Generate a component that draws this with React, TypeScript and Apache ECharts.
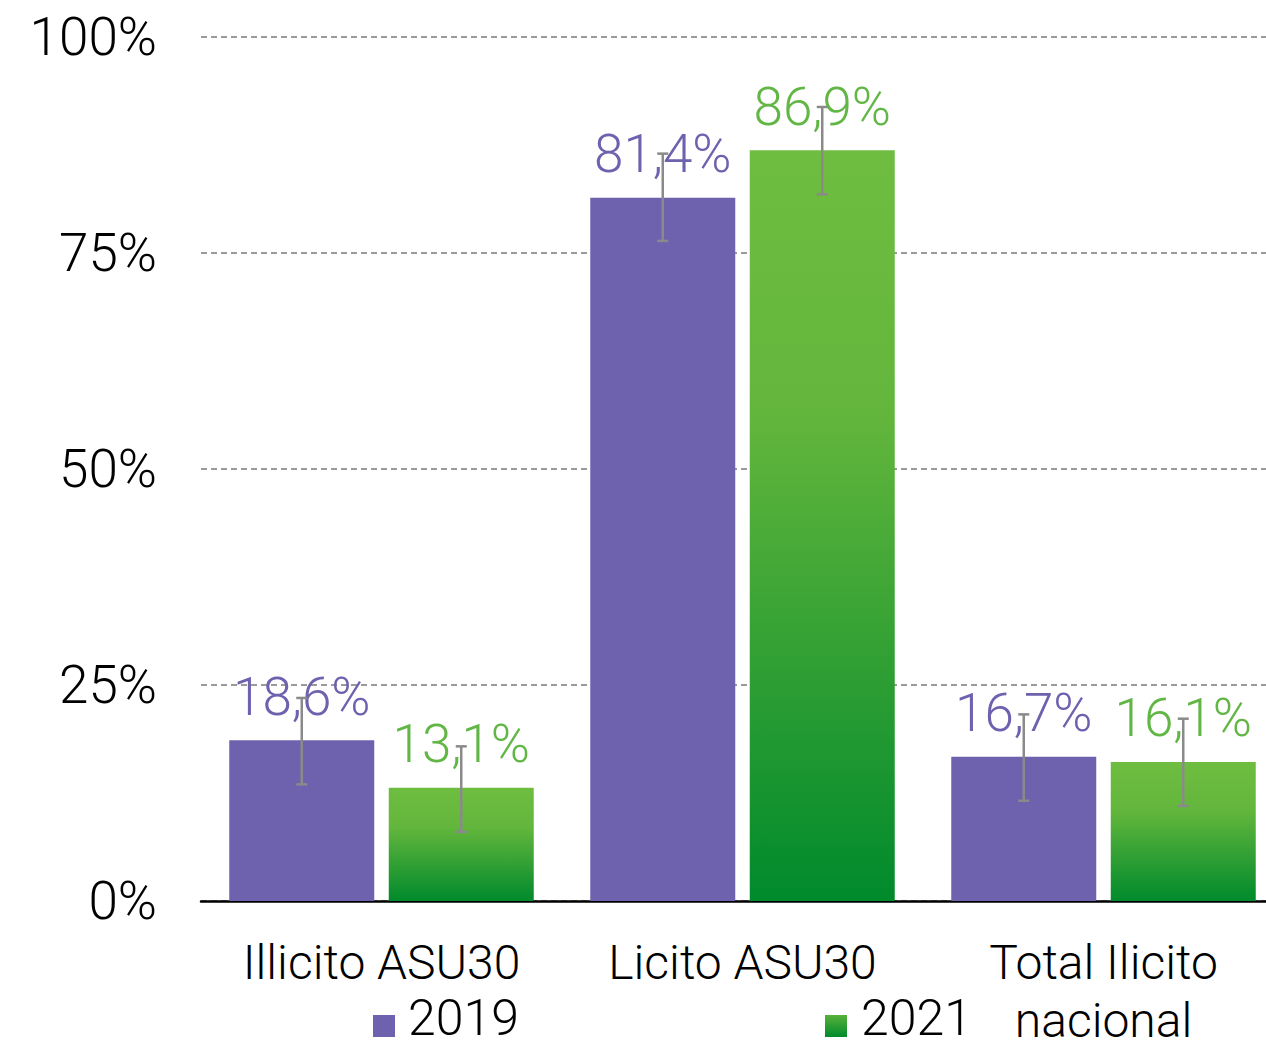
import React, { useEffect, useRef } from "react";
import * as echarts from "echarts";

const categories = ["Illicito ASU30", "Licito ASU30", "Total Ilicito\nnacional"];
const seriesNames = ["2019", "2021"];
const values2019 = [18.6, 81.4, 16.7];
const values2021 = [13.1, 86.9, 16.1];
const errLow2019 = [13.5, 76.4, 11.6];
const errHigh2019 = [23.5, 86.5, 21.6];
const errLow2021 = [8.0, 81.8, 11.0];
const errHigh2021 = [17.9, 91.9, 21.1];
const yTicks = [0, 25, 50, 75, 100];

const FONT = "Roboto";
const PURPLE = "#6E62AF";
const GREEN_LABEL = "#62B646";
const LEGEND_ICON = "path://M0,0 L22,0 L22,0 Z M0,16 L22,16 L22,38 L0,38 Z";

const greenGradient = () =>
  new echarts.graphic.LinearGradient(0, 0, 0, 1, [
    { offset: 0, color: "#6EBD40" },
    { offset: 0.35, color: "#63B63C" },
    { offset: 1, color: "#008A2C" },
  ]);

const fmt = (v: number) => v.toFixed(1).replace(".", ",") + "%";

export default function App() {
  const ref = useRef<HTMLDivElement>(null);
  useEffect(() => {
    if (!ref.current) return;
    const chart = echarts.init(ref.current, undefined, { renderer: "svg" });
    const BAR_W = 145;
    const OFFSET = (BAR_W + 14.5) / 2;
    const errRender = (offset: number) => (params: any, api: any) => {
      const cat = api.value(0);
      const pLo = api.coord([cat, api.value(1)]);
      const pHi = api.coord([cat, api.value(2)]);
      const x = pLo[0] + offset;
      const cap = 5.5;
      const style = { stroke: "#8A8A8A", lineWidth: 2.5 };
      return {
        type: "group",
        children: [
          { type: "line", shape: { x1: x, y1: pLo[1], x2: x, y2: pHi[1] }, style },
          { type: "line", shape: { x1: x - cap, y1: pLo[1], x2: x + cap, y2: pLo[1] }, style },
          { type: "line", shape: { x1: x - cap, y1: pHi[1], x2: x + cap, y2: pHi[1] }, style },
        ],
      };
    };
    const legendText = {
      fontSize: 50,
      fontFamily: FONT,
      fontWeight: 300,
      color: "#000",
      lineHeight: 40,
      padding: [0, 0, 0, 8],
    };
    chart.setOption({
      animation: false,
      backgroundColor: "#ffffff",
      textStyle: { fontFamily: FONT, fontWeight: 300 },
      grid: { left: 201, top: 37, width: 1083, height: 864 },
      legend: [
        {
          data: [seriesNames[0]],
          left: 368,
          top: 988,
          itemWidth: 22,
          itemHeight: 38,
          icon: LEGEND_ICON,
          textStyle: legendText,
        },
        {
          data: [seriesNames[1]],
          left: 820,
          top: 988,
          itemWidth: 24,
          itemHeight: 38,
          icon: LEGEND_ICON,
          textStyle: legendText,
        },
      ],
      xAxis: {
        type: "category",
        data: categories,
        axisTick: { show: false },
        axisLine: { lineStyle: { color: "#000", width: 2.5 } },
        axisLabel: {
          fontSize: 48,
          fontFamily: FONT,
          fontWeight: 300,
          color: "#000",
          margin: 32,
          lineHeight: 58,
          interval: 0,
        },
      },
      yAxis: {
        type: "value",
        min: yTicks[0],
        max: yTicks[yTicks.length - 1],
        interval: 25,
        axisLine: { show: false },
        axisTick: { show: false },
        axisLabel: {
          formatter: "{value}%",
          fontSize: 53,
          fontFamily: FONT,
          fontWeight: 300,
          color: "#000",
          margin: 44,
        },
        splitLine: { lineStyle: { color: "#9A9A9A", width: 2, type: [6, 4] } },
      },
      series: [
        {
          name: seriesNames[0],
          type: "bar",
          data: values2019,
          barWidth: BAR_W,
          barGap: "10%",
          itemStyle: { color: PURPLE },
          label: {
            show: true,
            position: "top",
            distance: 17,
            formatter: (p: any) => fmt(p.value),
            fontSize: 53,
            fontFamily: FONT,
            fontWeight: 300,
            color: PURPLE,
          },
        },
        {
          name: seriesNames[1],
          type: "bar",
          data: values2021,
          barWidth: BAR_W,
          barGap: "10%",
          itemStyle: { color: greenGradient() },
          label: {
            show: true,
            position: "top",
            distance: 17,
            formatter: (p: any) => fmt(p.value),
            fontSize: 53,
            fontFamily: FONT,
            fontWeight: 300,
            color: GREEN_LABEL,
          },
        },
        {
          name: "err2019",
          type: "custom",
          z: 10,
          renderItem: errRender(-OFFSET),
          data: categories.map((_, i) => [i, errLow2019[i], errHigh2019[i]]),
        },
        {
          name: "err2021",
          type: "custom",
          z: 10,
          renderItem: errRender(OFFSET),
          data: categories.map((_, i) => [i, errLow2021[i], errHigh2021[i]]),
        },
      ],
    });
    return () => chart.dispose();
  }, []);
  return (
    <div style={{ position: "fixed", left: 0, top: 0, width: 1266, height: 1049, overflow: "hidden" }}>
      <div ref={ref} style={{ width: 1300, height: 1049 }} />
    </div>
  );
}
